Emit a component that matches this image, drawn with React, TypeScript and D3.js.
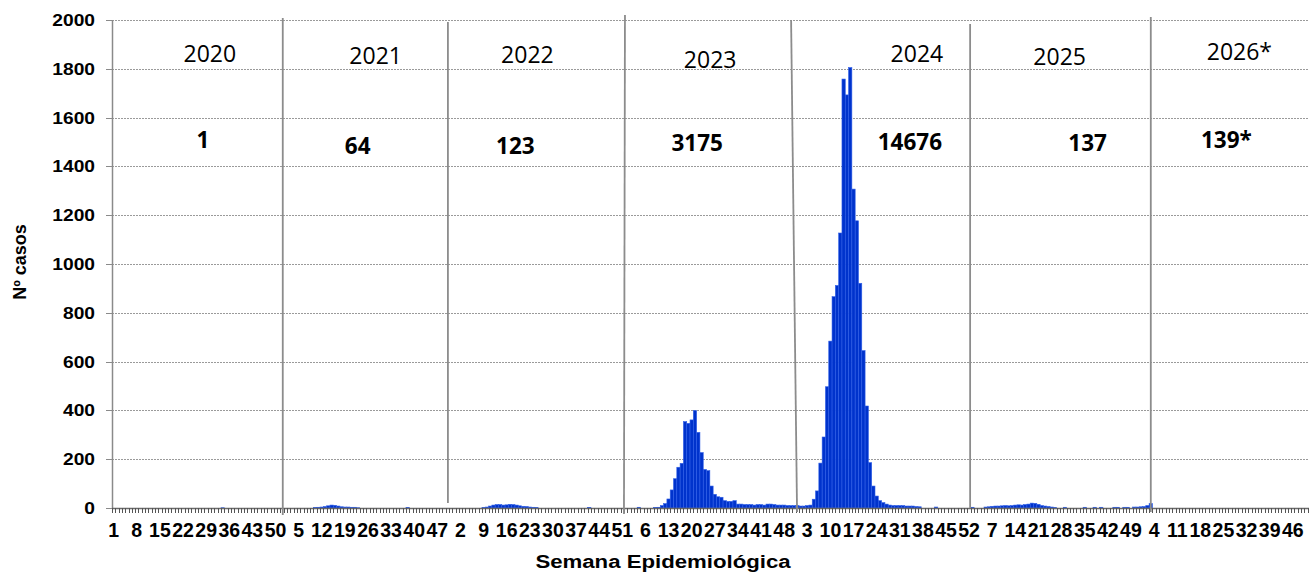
import React, { useRef, useEffect } from 'react';
import * as d3 from 'd3';

// epidemiological years shown on the axis (52 weeks each)
const years = [2020, 2021, 2022, 2023, 2024, 2025, 2026];
const yearLabels = ['2020', '2021', '2022', '2023', '2024', '2025', '2026*'];
const yearTotals = ['1', '64', '123', '3175', '14676', '137', '139*'];

// weekly cases, weeks 1..52 (13 weeks per row)
const cases2020 = [
  0, 0, 0, 0, 0, 0, 0, 0, 0, 0, 0, 0, 0,
  0, 0, 0, 0, 0, 0, 0, 0, 0, 0, 0, 0, 0,
  0, 0, 0, 0, 0, 0, 0, 1, 0, 0, 0, 0, 0,
  0, 0, 0, 0, 0, 0, 0, 0, 0, 0, 0, 0, 0,
];
const cases2021 = [
  0, 0, 0, 0, 0, 0, 0, 0, 0, 2, 3, 4, 6,
  9, 12, 11, 8, 5, 4, 4, 3, 3, 1, 0, 0, 0,
  0, 0, 0, 0, 0, 0, 0, 0, 0, 0, 0, 2, 0,
  0, 0, 0, 0, 0, 0, 0, 0, 0, 0, 0, 0, 0,
];
const cases2022 = [
  0, 0, 0, 0, 0, 0, 0, 0, 2, 4, 8, 12, 14,
  14, 12, 13, 15, 14, 12, 9, 7, 6, 4, 3, 2, 0,
  0, 0, 0, 0, 0, 0, 0, 0, 0, 0, 0, 0, 0,
  0, 2, 0, 0, 0, 0, 0, 0, 0, 0, 0, 0, 0,
];
const cases2023 = [
  0, 0, 0, 3, 0, 0, 0, 0, 2, 3, 10, 18, 37,
  74, 120, 167, 183, 354, 347, 361, 399, 310, 227, 158, 153, 90,
  56, 46, 44, 30, 27, 27, 30, 16, 16, 14, 14, 14, 12,
  14, 14, 12, 16, 16, 14, 12, 12, 12, 10, 10, 10, 10,
];
const cases2024 = [
  8, 8, 10, 12, 36, 70, 184, 291, 497, 684, 866, 912, 1127,
  1758, 1693, 1805, 1307, 1177, 921, 645, 418, 186, 90, 49, 30, 22,
  16, 12, 10, 10, 10, 10, 8, 8, 8, 6, 5, 0, 0,
  0, 0, 4, 0, 0, 0, 0, 0, 0, 0, 0, 0, 0,
];
const cases2025 = [
  3, 0, 0, 0, 4, 5, 7, 8, 8, 9, 10, 9, 10,
  12, 13, 12, 14, 16, 20, 19, 15, 10, 8, 6, 4, 2,
  0, 0, 3, 0, 0, 0, 0, 0, 3, 0, 0, 3, 0,
  3, 0, 0, 0, 3, 3, 0, 3, 3, 0, 4, 4, 5,
];
const cases2026 = [6, 10, 18];

const yTicks = [0, 200, 400, 600, 800, 1000, 1200, 1400, 1600, 1800, 2000];
const weeksPerYear = 52;
const labelEvery = 7;

// hand-drawn year separators: [week at top, week at bottom, top px, bottom px]
const dividers = [
  [51.7, 51.7, 18, 515],
  [101.7, 101.7, 22, 503],
  [155.3, 155.0, 15, 514],
  [205.6, 207.4, 20, 512],
  [259.8, 259.8, 24, 508],
  [314.5, 314.5, 17, 512],
];
// label nudges from the year centre: [dx, baseline]
const yearLabelPos = [[12, 62], [6, 64], [-14, 63], [-3, 68], [32, 62], [3, 65], [11, 60]];
const totalPos = [[5, 148], [-12, 154], [-26, 154], [-16, 151], [25, 150], [31, 151], [-2, 148]];

export default function App() {
  const svgRef = useRef<SVGSVGElement>(null);

  useEffect(() => {
    const width = 1309;
    const height = 573;
    const margin = { top: 20, left: 112, bottom: 65 };
    const weekW = 3.303;
    const plotBottom = height - margin.bottom;

    const seriesByYear = [cases2020, cases2021, cases2022, cases2023, cases2024, cases2025, cases2026];
    const data = years.flatMap((yr, yi) =>
      d3.range(weeksPerYear).map(w => ({
        key: `${yr}-${w + 1}`,
        week: w + 1,
        value: seriesByYear[yi][w] ?? 0,
      }))
    );

    const svg = d3.select(svgRef.current);
    svg.selectAll('*').remove();

    const x = d3.scaleBand()
      .domain(data.map(d => d.key))
      .range([margin.left, margin.left + data.length * weekW])
      .padding(0);
    const xPos = d3.scaleLinear().domain([0, data.length]).range(x.range());
    const y = d3.scaleLinear().domain([0, 2000]).range([plotBottom, margin.top]);
    const right = x.range()[1];

    // dotted grid
    svg.append('g')
      .selectAll('line')
      .data(yTicks.filter(t => t > 0))
      .enter()
      .append('line')
      .attr('x1', margin.left).attr('x2', right)
      .attr('y1', d => Math.round(y(d)) + 0.5).attr('y2', d => Math.round(y(d)) + 0.5)
      .attr('stroke', '#9a9a9a')
      .attr('stroke-dasharray', '2 1');

    // bars
    svg.append('g')
      .selectAll('rect')
      .data(data.filter(d => d.value > 0))
      .enter()
      .append('rect')
      .attr('x', d => x(d.key)!)
      .attr('y', d => y(d.value))
      .attr('width', x.bandwidth())
      .attr('height', d => plotBottom - y(d.value))
      .attr('fill', '#0033cc')
      .attr('stroke', '#2f5fe8')
      .attr('stroke-width', 0.6);

    // y axis line + ticks + labels
    svg.append('line')
      .attr('x1', margin.left + 0.5).attr('x2', margin.left + 0.5)
      .attr('y1', margin.top).attr('y2', plotBottom)
      .attr('stroke', '#8a8a8a').attr('stroke-width', 1.5);
    const yAx = svg.append('g');
    yTicks.forEach(t => {
      const yy = Math.round(y(t)) + 0.5;
      yAx.append('line')
        .attr('x1', margin.left - 6).attr('x2', margin.left)
        .attr('y1', yy).attr('y2', yy)
        .attr('stroke', '#8a8a8a');
      yAx.append('text')
        .attr('transform', `translate(95,${yy}) scale(1.2,1)`)
        .attr('text-anchor', 'end')
        .attr('dy', '0.35em')
        .style('font-family', '"Liberation Sans", Arial, sans-serif')
        .style('font-weight', '700')
        .style('font-size', '16px')
        .text(t);
    });

    // x axis line, weekly ticks, labels every 7 weeks
    svg.append('line')
      .attr('x1', margin.left).attr('x2', right)
      .attr('y1', plotBottom + 0.5).attr('y2', plotBottom + 0.5)
      .attr('stroke', '#6a6a6a').attr('stroke-width', 1.5);
    svg.append('g')
      .selectAll('line')
      .data(d3.range(data.length + 1))
      .enter()
      .append('line')
      .attr('x1', i => Math.round(xPos(i)) + 0.5).attr('x2', i => Math.round(xPos(i)) + 0.5)
      .attr('y1', plotBottom).attr('y2', plotBottom + 5)
      .attr('stroke', '#555');
    svg.append('g')
      .selectAll('text')
      .data(data.filter((d, i) => i % labelEvery === 0))
      .enter()
      .append('text')
      .attr('x', d => x(d.key)! + x.bandwidth() / 2)
      .attr('y', 537)
      .attr('text-anchor', 'middle')
      .style('font-family', '"Liberation Sans", Arial, sans-serif')
      .style('font-weight', '700')
      .style('font-size', '19.5px')
      .text(d => d.week);

    // year separators
    svg.append('g')
      .selectAll('line')
      .data(dividers)
      .enter()
      .append('line')
      .attr('x1', d => xPos(d[0])).attr('x2', d => xPos(d[1]))
      .attr('y1', d => d[2]).attr('y2', d => d[3])
      .attr('stroke', '#8c8c8c').attr('stroke-width', 1.8);

    // year names and totals
    const yearCentre = (i: number) => xPos(i * weeksPerYear + weeksPerYear / 2);
    yearLabels.forEach((lab, i) => {
      svg.append('text')
        .attr('x', yearCentre(i) + yearLabelPos[i][0])
        .attr('y', yearLabelPos[i][1])
        .attr('text-anchor', 'middle')
        .style('font-family', '"Open Sans", sans-serif')
        .style('font-size', '23px')
        .text(lab);
      svg.append('text')
        .attr('x', yearCentre(i) + totalPos[i][0])
        .attr('y', totalPos[i][1])
        .attr('text-anchor', 'middle')
        .style('font-family', '"Open Sans", sans-serif')
        .style('font-weight', '700')
        .style('font-size', '22.5px')
        .text(yearTotals[i]);
    });

    // axis titles
    svg.append('text')
      .attr('transform', 'translate(663,568) scale(1.2,1)')
      .attr('text-anchor', 'middle')
      .style('font-family', '"Liberation Sans", Arial, sans-serif')
      .style('font-weight', '700')
      .style('font-size', '18.5px')
      .text('Semana Epidemiológica');
    svg.append('text')
      .attr('transform', 'translate(26,262) rotate(-90)')
      .attr('text-anchor', 'middle')
      .style('font-family', '"Liberation Sans", Arial, sans-serif')
      .style('font-weight', '700')
      .style('font-size', '18px')
      .text('Nº casos');

    svg.attr('width', width).attr('height', height);
  }, []);

  return (
    <div style={{ position: 'absolute', left: 0, top: 0, background: '#fff' }}>
      <svg ref={svgRef} width={1309} height={573} style={{ display: 'block' }}></svg>
    </div>
  );
}
